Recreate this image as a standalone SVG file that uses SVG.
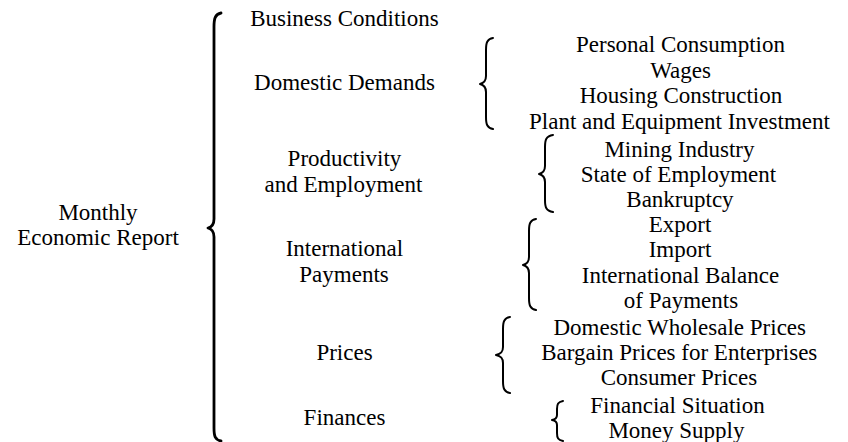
<svg xmlns="http://www.w3.org/2000/svg" width="848" height="442" viewBox="0 0 848 442">
<rect width="848" height="442" fill="#fff"/>
<g id="connectors" fill="none" stroke="#000" stroke-width="2" stroke-linecap="round" stroke-linejoin="round">
<path stroke-width="2.8" d="M221,13 C215,14 214,19 214,27 L214,219 C214,224 212,227 208,228 C212,229 214,232 214,237 L214,428 C214,436 215,440 221,441"/>
<path d="M493,38 C487,39 486,43 486,50 L486,76 C486,81 484,83 480,84 C484,85 486,87 486,92 L486,117 C486,124 487,128 493,129"/>
<path d="M553,135 C546,136 545,140 545,147 L545,166 C545,171 543,173 539,174 C543,175 545,177 545,182 L545,200 C545,207 546,211 553,212"/>
<path d="M536,219 C530,220 529,224 529,231 L529,257 C529,262 527,264 523,265 C527,266 529,268 529,273 L529,298 C529,305 530,309 536,310"/>
<path d="M510,317 C504,318 503,322 503,329 L503,347 C503,352 501,354 496,355 C501,356 503,358 503,363 L503,381 C503,388 504,392 510,393"/>
<path d="M563,401 C558,402 557,404 557,409 L557,415 C557,418 555,419.5 552,420 C555,420.5 557,422 557,425 L557,433 C557,438 558,440 563,441"/>
</g>
<g id="root">
<text x="58.4" y="219.5" font-family="Liberation Serif" font-size="23">Monthly</text>
<text x="17.2" y="245" font-family="Liberation Serif" font-size="23">Economic Report</text>
</g>
<g id="business-conditions"><text x="250.2" y="26" font-family="Liberation Serif" font-size="23">Business Conditions</text></g>
<g id="domestic-demands"><text x="254.1" y="90" font-family="Liberation Serif" font-size="23">Domestic Demands</text></g>
<g id="productivity"><text x="287.6" y="166" font-family="Liberation Serif" font-size="23">Productivity</text><text x="264.6" y="192" font-family="Liberation Serif" font-size="23">and Employment</text></g>
<g id="international-payments"><text x="285.7" y="256" font-family="Liberation Serif" font-size="23">International</text><text x="299.3" y="282" font-family="Liberation Serif" font-size="23">Payments</text></g>
<g id="prices"><text x="316.4" y="360" font-family="Liberation Serif" font-size="23">Prices</text></g>
<g id="finances"><text x="303.6" y="425" font-family="Liberation Serif" font-size="23">Finances</text></g>
<g id="personal-consumption"><text x="576" y="52" font-family="Liberation Serif" font-size="23">Personal Consumption</text></g>
<g id="wages"><text x="650.2" y="77.5" font-family="Liberation Serif" font-size="23">Wages</text></g>
<g id="housing-construction"><text x="579.7" y="103" font-family="Liberation Serif" font-size="23">Housing Construction</text></g>
<g id="plant-equipment"><text x="529" y="128.5" font-family="Liberation Serif" font-size="23">Plant and Equipment Investment</text></g>
<g id="mining-industry"><text x="604.4" y="156.5" font-family="Liberation Serif" font-size="23">Mining Industry</text></g>
<g id="state-of-employment"><text x="580.7" y="182" font-family="Liberation Serif" font-size="23">State of Employment</text></g>
<g id="bankruptcy"><text x="626.3" y="207" font-family="Liberation Serif" font-size="23">Bankruptcy</text></g>
<g id="export"><text x="648.7" y="232" font-family="Liberation Serif" font-size="23">Export</text></g>
<g id="import"><text x="648.7" y="257" font-family="Liberation Serif" font-size="23">Import</text></g>
<g id="international-balance"><text x="581.8" y="283" font-family="Liberation Serif" font-size="23">International Balance</text><text x="623.8" y="307.5" font-family="Liberation Serif" font-size="23">of Payments</text></g>
<g id="domestic-wholesale-prices"><text x="553.5" y="335" font-family="Liberation Serif" font-size="23">Domestic Wholesale Prices</text></g>
<g id="bargain-prices"><text x="541.2" y="359.5" font-family="Liberation Serif" font-size="23">Bargain Prices for Enterprises</text></g>
<g id="consumer-prices"><text x="600.7" y="385" font-family="Liberation Serif" font-size="23">Consumer Prices</text></g>
<g id="financial-situation"><text x="590.3" y="412.5" font-family="Liberation Serif" font-size="23">Financial Situation</text></g>
<g id="money-supply"><text x="608.4" y="438" font-family="Liberation Serif" font-size="23">Money Supply</text></g>
</svg>
